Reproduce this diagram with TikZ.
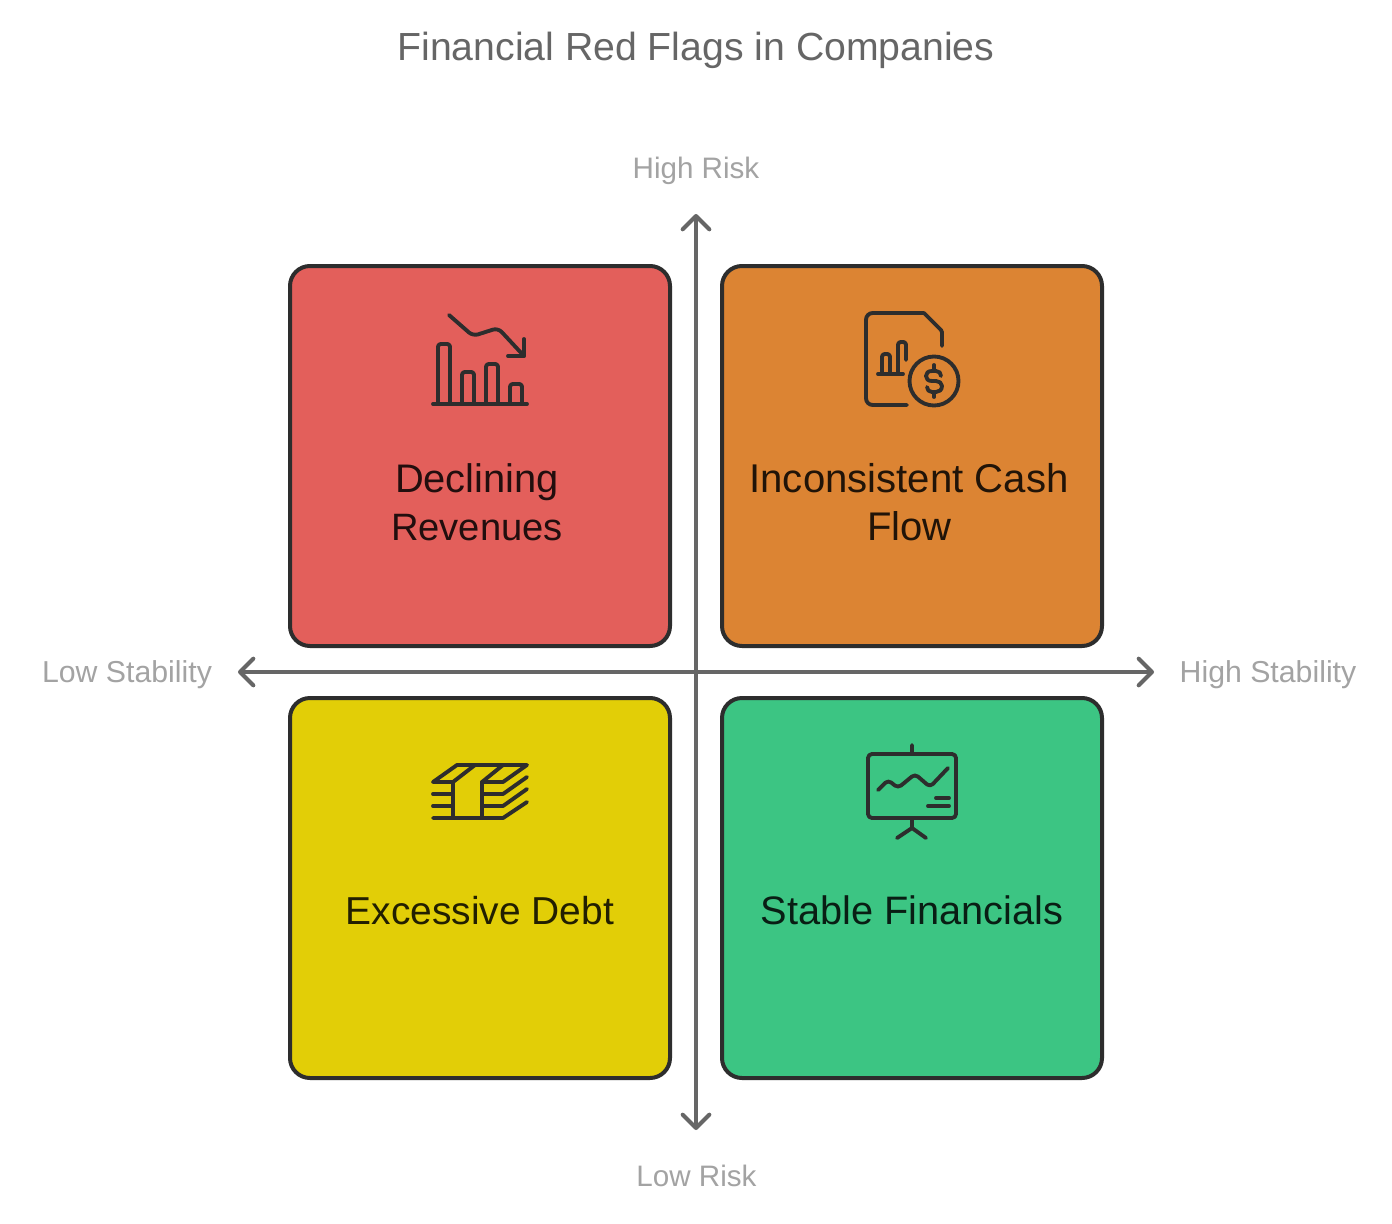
\documentclass[tikz,border=0pt]{standalone}
\usepackage{fontspec}
\setmainfont{Liberation Sans}
\usetikzlibrary{arrows.meta}
\definecolor{cred}{HTML}{E35F5B}
\definecolor{corange}{HTML}{DC8433}
\definecolor{cyellow}{HTML}{E2CE07}
\definecolor{cgreen}{HTML}{3CC583}
\definecolor{cline}{HTML}{2D2D2D}
\definecolor{caxis}{HTML}{666666}
\definecolor{clabel}{HTML}{A3A3A3}
\definecolor{ctitle}{HTML}{666666}
\newcommand{\fs}[1]{\fontsize{#1}{36}\selectfont}
\tikzset{
  x=0.75pt,y=-0.75pt,
  quad/.style={draw=cline,line width=3pt,rounded corners=15pt,minimum width=285pt,minimum height=285pt,inner sep=0pt},
  axis/.style={draw=caxis,line width=3pt,{Straight Barb[length=10pt,width=20pt,line width=3pt,round]}-{Straight Barb[length=10pt,width=20pt,line width=3pt,round]}},
  icon/.style={draw=cline,line width=2.9pt,line cap=round,line join=round},
  qtext/.style={font=\fs{28.5},align=center,inner sep=0pt,text=#1,anchor=base},
  axlabel/.style={font=\fontsize{22.2}{28}\selectfont,text=clabel,inner sep=0pt,anchor=base},
}
\begin{document}
\begin{tikzpicture}
\useasboundingbox (0,0) rectangle (1392,1224);
\fill[white] (0,0) rectangle (1392,1224);
\node[font=\fontsize{29.4}{36}\selectfont,text=ctitle,inner sep=0pt,anchor=base] (title) at (696,60.5) {Financial Red Flags in Companies};
\node[axlabel] (high) at (696,178) {High Risk};
\node[axlabel] (low) at (696.5,1186) {Low Risk};
\node[axlabel,font=\fontsize{22.7}{28}\selectfont] (lowS) at (127,682) {Low Stability};
\node[axlabel,font=\fontsize{22.7}{28}\selectfont] (highS) at (1268,682) {High Stability};
\node[quad,fill=cred] (q1) at (480,456) {};
\node[quad,fill=corange] (q2) at (912,456) {};
\node[quad,fill=cyellow] (q3) at (480,888) {};
\node[quad,fill=cgreen] (q4) at (912,888) {};
\coordinate (top) at (696,214);
\coordinate (bot) at (696,1130);
\coordinate (lef) at (238,672);
\coordinate (rig) at (1154,672);
\draw[axis] (top) -- (bot);
\draw[axis] (lef) -- (rig);
\node[qtext=black!85!cred] (t1a) at (477,492.5) {\fs{29.9}Declining};
\node[qtext=black!85!cred] (t1b) at (477,540.5) {\fs{28.6}Revenues};
\node[qtext=black!85!corange] (t2a) at (909,492.5) {\fs{30.1}Inconsistent Cash};
\node[qtext=black!85!corange] (t2b) at (909.5,540.5) {\fs{30}Flow};
\node[qtext=black!85!cyellow] (t3) at (480,924.5) {\fs{29.2}Excessive Debt};
\node[qtext=black!85!cgreen] (t4) at (912,924.5) {\fs{29.8}Stable Financials};
% icon: declining
\draw[icon] (433,404) -- (527,404);
\draw[icon,rounded corners=2pt] (438,404) -- (438,344) -- (450,344) -- (450,404);
\draw[icon,rounded corners=2pt] (462,404) -- (462,372) -- (474,372) -- (474,404);
\draw[icon,rounded corners=2pt] (486,404) -- (486,364) -- (498,364) -- (498,404);
\draw[icon,rounded corners=2pt] (510,404) -- (510,384) -- (522,384) -- (522,404);
\draw[icon,rounded corners=4pt] (449,315) -- (473,336) -- (498,328) -- (524,356);
\draw[icon] (524,339) -- (524,356) -- (508,356);
% icon: cash flow
\draw[icon,rounded corners=5pt] (907,405) -- (866,405) -- (866,313) -- (924,313);
\draw[icon,rounded corners=1pt] (924,313) -- (942,331) -- (942,346);
\draw[icon] (878,374) -- (903,374);
\draw[icon,rounded corners=2pt] (882,374) -- (882,354) -- (890,354) -- (890,374);
\draw[icon,rounded corners=2pt] (898,374) -- (898,342) -- (906,342) -- (906,360);
\draw[icon] (934,381) circle[radius=24.5];
\draw[icon] (934,365) -- (934,371) (934,392) -- (934,397);
\draw[icon] (941,376) .. controls (941,373) and (939,371) .. (936,371) -- (932,371) .. controls (928,371) and (926,373) .. (926,376) .. controls (926,379) and (928,381) .. (932,381) -- (936,381) .. controls (939,381) and (942,383) .. (942,386) .. controls (942,390) and (939,392) .. (936,392) -- (932,392) .. controls (929,392) and (927,390) .. (927,387);
% icon: debt
\draw[icon] (433,782) -- (457,765) -- (527,765) -- (503,782) -- (482,782);
\draw[icon] (433,782) -- (453,782) -- (475,765);
\draw[icon] (482,782) -- (503,765);
\draw[icon] (453,782) -- (453,818) (482,782) -- (482,818);
\draw[icon] (433,794) -- (453,794) (433,806) -- (453,806);
\draw[icon] (433,818) -- (503,818) -- (527,802);
\draw[icon] (482,794) -- (503,794) -- (527,777);
\draw[icon] (482,806) -- (503,806) -- (527,789);
% icon: stable
\draw[icon,rounded corners=3pt] (868,754) rectangle (956,818);
\draw[icon] (912,745) -- (912,754) (912,818) -- (912,828) (897,838) -- (912,828) -- (926,838);
\draw[icon,rounded corners=3pt] (878,790) -- (888,780) -- (898,788) -- (915,774) -- (930,787) -- (948,768);
\draw[icon] (936,798) -- (949,798) (928,806) -- (949,806);
\end{tikzpicture}
\end{document}
